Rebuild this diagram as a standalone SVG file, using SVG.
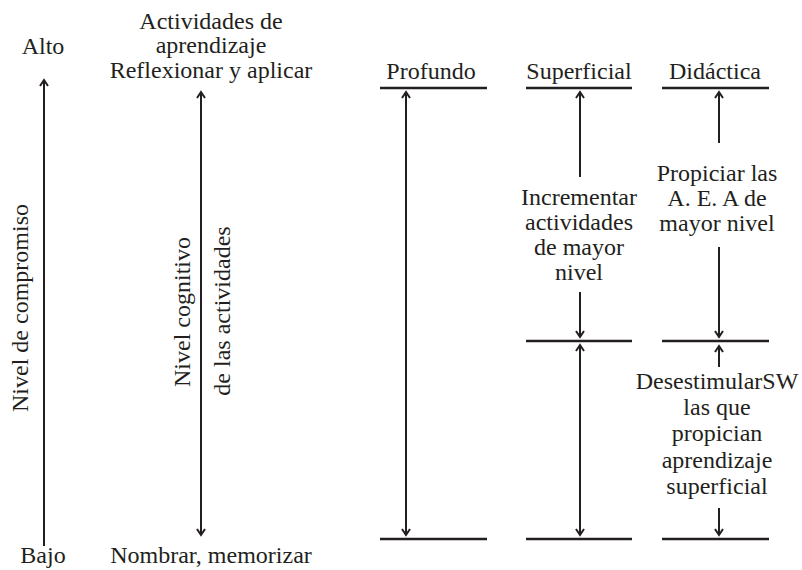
<svg xmlns="http://www.w3.org/2000/svg" width="802" height="570" viewBox="0 0 802 570">
<defs>
<style>
text{font-family:"Liberation Serif","Times New Roman",serif;font-size:24px;fill:#231f20;text-anchor:middle}
.ln{stroke:#231f20;stroke-width:2;fill:none}
.hl{stroke:#231f20;stroke-width:2.6;fill:none}
</style>
<marker id="ah" viewBox="-10 -6 12 12" refX="0" refY="0" markerWidth="12" markerHeight="12" markerUnits="userSpaceOnUse" orient="auto-start-reverse">
<path d="M-6,-4 L0,0 L-6,4" fill="none" stroke="#231f20" stroke-width="2"/>
</marker>
</defs>
<rect width="802" height="570" fill="#fff"/>

<g id="connectors">
<line class="ln" x1="44" y1="546" x2="44" y2="80" marker-end="url(#ah)"/>
<line class="ln" x1="201" y1="92" x2="201" y2="535" marker-start="url(#ah)" marker-end="url(#ah)"/>
<line class="ln" x1="406" y1="92" x2="406" y2="535" marker-start="url(#ah)" marker-end="url(#ah)"/>
<line class="ln" x1="580" y1="177" x2="580" y2="92" marker-end="url(#ah)"/>
<line class="ln" x1="580" y1="292" x2="580" y2="337" marker-end="url(#ah)"/>
<line class="ln" x1="580" y1="345" x2="580" y2="535" marker-start="url(#ah)" marker-end="url(#ah)"/>
<line class="ln" x1="719" y1="143" x2="719" y2="92" marker-end="url(#ah)"/>
<line class="ln" x1="719" y1="247" x2="719" y2="337" marker-end="url(#ah)"/>
<line class="ln" x1="719" y1="367" x2="719" y2="346" marker-end="url(#ah)"/>
<line class="ln" x1="719" y1="508" x2="719" y2="535" marker-end="url(#ah)"/>
</g>

<g id="axis-left">
<text x="43" y="54">Alto</text>
<text x="43" y="563">Bajo</text>
<text transform="translate(28,308) rotate(-90)">Nivel de compromiso</text>
</g>

<g id="axis-cognitive">
<text x="211" y="29">Actividades de</text>
<text x="211" y="53">aprendizaje</text>
<text x="211" y="78">Reflexionar y aplicar</text>
<text x="211" y="563">Nombrar, memorizar</text>
<text transform="translate(190,312) rotate(-90)">Nivel cognitivo</text>
<text transform="translate(230,311) rotate(-90)">de las actividades</text>
</g>

<g id="col-profundo">
<text x="431" y="79">Profundo</text>
<line class="hl" x1="380" y1="88" x2="487" y2="88"/>
<line class="hl" x1="380" y1="539" x2="487" y2="539"/>
</g>

<g id="col-superficial">
<text x="579" y="79">Superficial</text>
<line class="hl" x1="526" y1="88" x2="632" y2="88"/>
<line class="hl" x1="526" y1="341" x2="632" y2="341"/>
<line class="hl" x1="526" y1="539" x2="632" y2="539"/>
<text x="579" y="205">Incrementar</text>
<text x="579" y="230">actividades</text>
<text x="579" y="255">de mayor</text>
<text x="579" y="280">nivel</text>
</g>

<g id="col-didactica">
<text x="715" y="79">Didáctica</text>
<line class="hl" x1="662" y1="88" x2="769" y2="88"/>
<line class="hl" x1="662" y1="341" x2="769" y2="341"/>
<line class="hl" x1="662" y1="539" x2="769" y2="539"/>
<text x="717" y="181">Propiciar las</text>
<text x="717" y="206">A. E. A de</text>
<text x="717" y="231">mayor nivel</text>
<text x="717" y="389">DesestimularSW</text>
<text x="717" y="415">las que</text>
<text x="717" y="441">propician</text>
<text x="717" y="468">aprendizaje</text>
<text x="717" y="494">superficial</text>
</g>
</svg>
